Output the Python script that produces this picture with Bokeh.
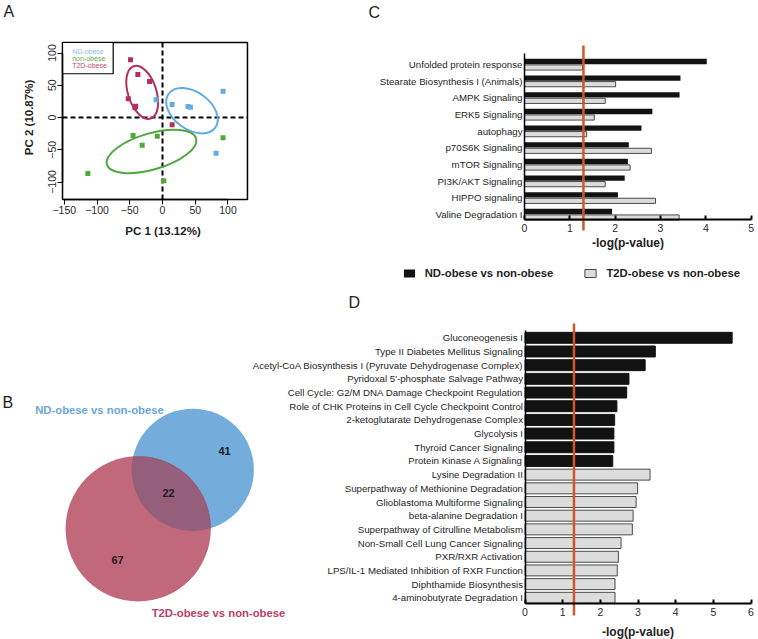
import numpy as np
from bokeh.plotting import figure
from bokeh.models import Range1d, LinearAxis, FixedTicker, Legend, LegendItem
from bokeh.core.properties import value
from bokeh.embed import file_html
from bokeh.resources import INLINE

# ---------------- data ----------------
GROUPS = ["ND-obese", "non-obese", "T2D-obese"]
ND_PC1 = [-9.7, 14.7, 39.0, 42.7, 92.5, 81.8]
ND_PC2 = [27.4, 20.2, 17.0, 16.0, 40.8, -55.3]
NON_PC1 = [-45.0, -31.0, -8.0, -114.0, 2.0, 92.5]
NON_PC2 = [-28.0, -43.0, -29.0, -87.0, -98.0, -31.5]
T2D_PC1 = [-48.8, -37.6, -19.8, -52.3, -42.2, -41.0, 14.7]
T2D_PC2 = [89.4, 66.7, 55.8, 28.9, 15.0, 17.5, -11.4]
# group ellipses: centre, full axes, angle (deg) -- order ND, non, T2D
ELL_CX = [45.0, -16.8, -31.0]
ELL_CY = [10.6, -52.7, 39.0]
ELL_W = [88.0, 142.0, 84.0]
ELL_H = [58.0, 56.0, 44.0]
ELL_ANGLE = [-36.0, 16.3, 108.0]
PC1_LABEL = "PC 1 (13.12%)"
PC2_LABEL = "PC 2 (10.87%)"
PC1_TICKS = [-150, -100, -50, 0, 50, 100]
PC2_TICKS = [-100, -50, 0, 50, 100]
PC1_LIM = [-152.7, 129.8]
PC2_LIM = [-127.1, 116.3]

COMPARISONS = ["ND-obese vs non-obese", "T2D-obese vs non-obese"]
VENN_ONLY_ND = 41
VENN_SHARED = 22
VENN_ONLY_T2D = 67

C_PATHWAYS = ["Unfolded protein response", "Stearate Biosynthesis I (Animals)",
              "AMPK Signaling", "ERK5 Signaling", "autophagy", "p70S6K Signaling",
              "mTOR Signaling", "PI3K/AKT Signaling", "HIPPO signaling",
              "Valine Degradation I"]
C_ND = [4.02, 3.44, 3.42, 2.82, 2.58, 2.30, 2.28, 2.21, 2.06, 1.93]
C_T2D = [1.28, 2.01, 1.78, 1.54, 1.37, 2.80, 2.33, 1.78, 2.89, 3.41]
C_TICKS = [0, 1, 2, 3, 4, 5]

D_PATHWAYS = ["Gluconeogenesis I", "Type II Diabetes Mellitus Signaling",
              "Acetyl-CoA Biosynthesis I (Pyruvate Dehydrogenase Complex)",
              "Pyridoxal 5'-phosphate Salvage Pathway",
              "Cell Cycle: G2/M DNA Damage Checkpoint Regulation",
              "Role of CHK Proteins in Cell Cycle Checkpoint Control",
              "2-ketoglutarate Dehydrogenase Complex", "Glycolysis I",
              "Thyroid Cancer Signaling", "Protein Kinase A Signaling",
              "Lysine Degradation II", "Superpathway of Methionine Degradation",
              "Glioblastoma Multiforme Signaling", "beta-alanine Degradation I",
              "Superpathway of Citrulline Metabolism",
              "Non-Small Cell Lung Cancer Signaling", "PXR/RXR Activation",
              "LPS/IL-1 Mediated Inhibition of RXR Function",
              "Diphthamide Biosynthesis", "4-aminobutyrate Degradation I"]
D_VALUES = [5.50, 3.46, 3.19, 2.76, 2.70, 2.44, 2.38, 2.36, 2.36, 2.33,
            3.32, 2.99, 2.95, 2.87, 2.85, 2.55, 2.48, 2.45, 2.39, 2.39]
D_SOURCE = ["ND", "ND", "ND", "ND", "ND", "ND", "ND", "ND", "ND", "ND",
            "T2D", "T2D", "T2D", "T2D", "T2D", "T2D", "T2D", "T2D", "T2D", "T2D"]
D_TICKS = [0, 1, 2, 3, 4, 5, 6]
P_THRESHOLD = 1.3
XLABEL = "-log(p-value)"
PANELS = ["A", "B", "C", "D"]

# ---------------- layout / style ----------------
W, H = 758, 639
FONT = "Liberation Sans"
COL_ND, COL_NON, COL_T2D = "#64ace0", "#4fa83e", "#b3305d"
BLACK_BAR, GREY_BAR, GREY_LINE = "#121212", "#dcdcdc", "#4a4a4a"
RED_LINE = "#d4552c"


def rng(v0, c0, v1, c1, size, vertical=False):
    k = (v1 - v0) / (c1 - c0)
    lo = v0 + (0 - c0) * k
    hi = v0 + (size - c0) * k
    return Range1d(start=hi, end=lo) if vertical else Range1d(start=lo, end=hi)


p = figure(width=W, height=H, x_range=Range1d(0, W), y_range=Range1d(H, 0),
           x_axis_type=None, y_axis_type=None, toolbar_location=None,
           output_backend="svg", min_border=0, outline_line_color=None)
p.extra_x_ranges = {"ax": rng(0, 162, 100, 227.47, W),
                    "cx": rng(0, 524, 5, 750.7, W),
                    "dx": rng(0, 524.5, 6, 750.5, W)}
p.extra_y_ranges = {"ay": rng(0, 117, 100, 52.5, H, True),
                    "cy": rng(0, 64, 9, 214, H, True),
                    "dy": rng(0, 337.3, 19, 597.3, H, True)}
A = dict(x_range_name="ax", y_range_name="ay")
C = dict(x_range_name="cx", y_range_name="cy")
D = dict(x_range_name="dx", y_range_name="dy")


def style_axis(ax, size="10px", color="#2a2a2a"):
    ax.major_label_text_font = FONT
    ax.major_label_text_font_size = size
    ax.major_label_text_color = color
    ax.minor_tick_line_color = None
    ax.axis_line_color = "black"


# ================= Panel A : PCA =================
p.quad(left=[PC1_LIM[0]], right=[PC1_LIM[1]], bottom=[PC2_LIM[0]], top=[PC2_LIM[1]],
       fill_color=None, line_color="black", line_width=1.5, **A)
p.segment(x0=[0, PC1_LIM[0]], y0=[PC2_LIM[0], 0], x1=[0, PC1_LIM[1]], y1=[PC2_LIM[1], 0],
          line_color="black", line_width=2, line_dash="5 3", **A)
p.ellipse(x=ELL_CX, y=ELL_CY, width=ELL_W, height=ELL_H, angle=ELL_ANGLE,
          angle_units="deg", fill_color=None, line_color=[COL_ND, COL_NON, COL_T2D],
          line_width=2, **A)
for xs, ys, col in [(ND_PC1, ND_PC2, COL_ND), (NON_PC1, NON_PC2, COL_NON),
                    (T2D_PC1, T2D_PC2, COL_T2D)]:
    p.scatter(xs, ys, marker="square", size=5, fill_color=col, line_color=None, **A)
# legend box
p.quad(left=[PC1_LIM[0]], right=[-75.3], bottom=[67.8], top=[PC2_LIM[1]],
       fill_color="white", line_color="black", line_width=1.2, **A)
p.text(x=[71.7, 71.7, 71.7], y=[50.7, 58.0, 65.3], text=GROUPS,
       text_color=["#8cc0e4", "#5fae45", "#c04a72"], text_font=value(FONT),
       text_font_size="7px", text_baseline="middle", text_align="left")

xa = LinearAxis(fixed_location=PC2_LIM[0], bounds=(PC1_TICKS[0], PC1_TICKS[-1]),
                ticker=FixedTicker(ticks=PC1_TICKS), **A)
style_axis(xa, "10.5px")
xa.axis_line_width = 1.5
xa.major_tick_out = 5
xa.major_tick_in = 0
xa.major_label_standoff = 2
p.add_layout(xa, "below")

ya = LinearAxis(fixed_location=PC1_LIM[0], bounds=(PC2_TICKS[0], PC2_TICKS[-1]),
                ticker=FixedTicker(ticks=PC2_TICKS), major_label_orientation="vertical", **A)
style_axis(ya, "10.5px")
ya.axis_line_width = 1.5
ya.major_tick_out = 5
ya.major_tick_in = 0
ya.major_label_standoff = 2
p.add_layout(ya, "left")

p.text(x=[162.5], y=[230], text=[PC1_LABEL], text_font=value(FONT), text_font_size="11.5px",
       text_font_style="bold", text_align="center", text_baseline="middle", text_color="#222")
p.text(x=[28.3], y=[117], text=[PC2_LABEL], angle=np.pi / 2, text_font=value(FONT),
       text_font_size="11.5px", text_font_style="bold", text_align="center",
       text_baseline="middle", text_color="#222")

# ================= Panel B : Venn =================
K = 7.7
r_nd = K * np.sqrt(VENN_ONLY_ND + VENN_SHARED)
r_t2d = K * np.sqrt(VENN_ONLY_T2D + VENN_SHARED)
c1 = np.array([192.3, 469.3])
c2 = np.array([137.7, 528.3])
p.circle(x=[c1[0]], y=[c1[1]], radius=r_nd, fill_color="#74acdb", line_color=None)
p.circle(x=[c2[0]], y=[c2[1]], radius=r_t2d, fill_color="#c2687b", line_color=None)
d = np.linalg.norm(c2 - c1)
a = (r_nd ** 2 - r_t2d ** 2 + d ** 2) / (2 * d)
alpha = np.arccos(a / r_nd)
beta = np.arccos((d - a) / r_t2d)
th = np.arctan2(*(c2 - c1)[::-1])
ph = np.arctan2(*(c1 - c2)[::-1])
t1 = np.linspace(th - alpha, th + alpha, 80)
t2 = np.linspace(ph - beta, ph + beta, 80)
lx = np.concatenate([c1[0] + r_nd * np.cos(t1), c2[0] + r_t2d * np.cos(t2)])
ly = np.concatenate([c1[1] + r_nd * np.sin(t1), c2[1] + r_t2d * np.sin(t2)])
p.patch(lx, ly, fill_color="#955f7b", line_color=None)
p.text(x=[224, 168, 117], y=[450, 492, 559],
       text=[str(VENN_ONLY_ND), str(VENN_SHARED), str(VENN_ONLY_T2D)],
       text_font=value(FONT), text_font_size="11px", text_font_style="bold",
       text_color="#1e1e1e", text_align="center", text_baseline="middle")
p.text(x=[99, 218], y=[409, 612], text=COMPARISONS, text_color=["#6aa8da", "#b8425f"],
       text_font=value(FONT), text_font_size="11.3px", text_font_style="bold",
       text_align="center", text_baseline="middle")

# ================= Panel C =================
c_rows = list(range(len(C_PATHWAYS)))
rc1 = p.hbar(y=[r - 0.18 for r in c_rows], left=0, right=C_ND, height=0.32,
             fill_color=BLACK_BAR, line_color=None, **C)
rc2 = p.hbar(y=[r + 0.18 for r in c_rows], left=0, right=C_T2D, height=0.31,
             fill_color=GREY_BAR, line_color=GREY_LINE, line_width=1, **C)
p.segment(x0=[P_THRESHOLD], y0=[-1.14], x1=[P_THRESHOLD], y1=[9.96],
          line_color=RED_LINE, line_width=2.5, **C)

cxa = LinearAxis(fixed_location=9.3, bounds=(C_TICKS[0], C_TICKS[-1]),
                 ticker=FixedTicker(ticks=C_TICKS), **C)
style_axis(cxa, "10.5px")
cxa.axis_line_width = 2
cxa.major_tick_line_width = 2
cxa.major_tick_in = 4
cxa.major_tick_out = 0
cxa.major_label_standoff = 4
p.add_layout(cxa, "below")

cya = LinearAxis(fixed_location=0, bounds=(-0.64, 9.3), ticker=FixedTicker(ticks=c_rows),
                 major_label_overrides={i: n for i, n in enumerate(C_PATHWAYS)}, **C)
style_axis(cya, "9.7px", "#1e1e1e")
cya.axis_line_width = 1.5
cya.major_tick_line_color = None
cya.major_tick_out = 0
cya.major_tick_in = 0
cya.major_label_standoff = 2
p.add_layout(cya, "left")

p.text(x=[627.5], y=[242.7], text=[XLABEL], text_font=value(FONT), text_font_size="12px",
       text_font_style="bold", text_align="center", text_baseline="middle", text_color="#222")

legend = Legend(items=[LegendItem(label=COMPARISONS[0], renderers=[rc1]),
                       LegendItem(label=COMPARISONS[1], renderers=[rc2])],
                location=(401.7, 359.7), orientation="horizontal",
                glyph_width=14, glyph_height=10, label_height=12, label_width=10,
                label_standoff=9, spacing=30, padding=0, margin=0,
                border_line_color=None, background_fill_alpha=0,
                label_text_font=FONT, label_text_font_size="11.3px",
                label_text_font_style="bold", label_text_color="#1e1e1e")
p.add_layout(legend)

# ================= Panel D =================
d_rows = list(range(len(D_PATHWAYS)))
p.hbar(y=d_rows, left=0, right=D_VALUES, height=0.8,
       fill_color=[BLACK_BAR if s == "ND" else GREY_BAR for s in D_SOURCE],
       line_color=[BLACK_BAR if s == "ND" else GREY_LINE for s in D_SOURCE],
       line_width=1, **D)
p.segment(x0=[P_THRESHOLD], y0=[-1.05], x1=[P_THRESHOLD], y1=[20.29],
          line_color=RED_LINE, line_width=2.5, **D)

dxa = LinearAxis(fixed_location=19.42, bounds=(D_TICKS[0], D_TICKS[-1]),
                 ticker=FixedTicker(ticks=D_TICKS), **D)
style_axis(dxa, "10.5px")
dxa.axis_line_width = 2
dxa.major_tick_line_width = 2
dxa.major_tick_in = 4
dxa.major_tick_out = 0
dxa.major_label_standoff = 4
p.add_layout(dxa, "below")

dya = LinearAxis(fixed_location=0, bounds=(-0.53, 19.42), ticker=FixedTicker(ticks=d_rows),
                 major_label_overrides={i: n for i, n in enumerate(D_PATHWAYS)}, **D)
style_axis(dya, "9.7px", "#1e1e1e")
dya.axis_line_width = 1.5
dya.major_tick_line_color = None
dya.major_tick_out = 0
dya.major_tick_in = 0
dya.major_label_standoff = 2
p.add_layout(dya, "left")

p.text(x=[637.5], y=[631.5], text=[XLABEL], text_font=value(FONT), text_font_size="12px",
       text_font_style="bold", text_align="center", text_baseline="middle", text_color="#222")

# panel letters
p.text(x=[3, 2, 368, 348], y=[11, 402, 12, 301.5], text=PANELS, text_font=value(FONT),
       text_font_size="16px", text_color="#222", text_align="left", text_baseline="middle")

open("out.html", "w").write(file_html(p, INLINE))
